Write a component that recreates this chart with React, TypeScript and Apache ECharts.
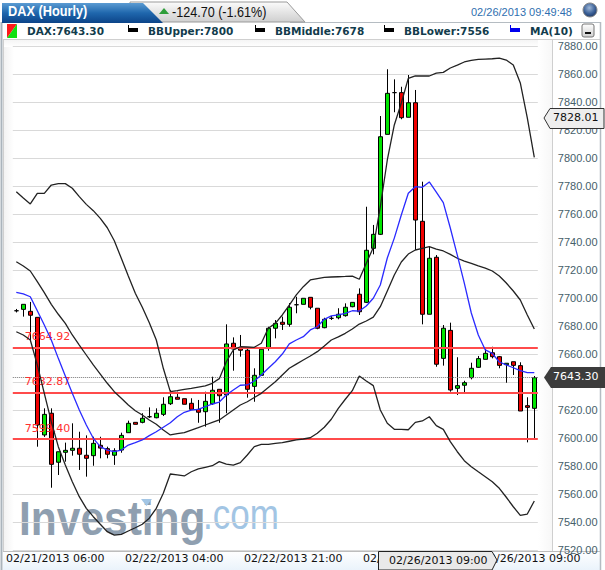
import React, { useEffect, useRef } from "react";
import * as echarts from "echarts";

const opens = [7691.1,7692.1,7690.7,7686.4,7602.4,7617.9,7582.9,7590,7591.4,7592.9,7587.9,7587.6,7595,7592.6,7587.9,7591.6,7604,7611.4,7611.4,7615.4,7614.7,7617.1,7624.7,7629.3,7628.3,7625,7620.7,7619,7624.7,7635,7631,7667.9,7664.7,7662.9,7637.1,7645,7664.3,7678.6,7682.9,7681.4,7695.4,7695.7,7700.7,7692.9,7679,7685.7,7686.1,7687.6,7694,7702.9,7697.1,7735.7,7745.7,7817.1,7846.9,7846.9,7829.3,7839.7,7755,7688.6,7729.3,7657.1,7677.1,7635.7,7637.9,7643.3,7650.7,7656.4,7661.1,7658.3,7652.6,7654.7,7651.9,7623.3,7621.4];
const closes = [7691.1,7695.7,7687.9,7609.5,7617.1,7581.4,7590.4,7591.4,7592.9,7588.6,7585.7,7596.4,7593,7588.6,7591.1,7602.1,7610.7,7610,7614.3,7615.4,7617.9,7624.3,7629.7,7627.9,7624.3,7620.7,7618.6,7626.4,7634.3,7630.4,7667.4,7663.8,7662.9,7635,7645,7663.6,7678.6,7682.1,7681.4,7693.6,7695.4,7700,7693.6,7678.6,7685,7685.7,7688.6,7693.6,7697.1,7690.4,7734.3,7745.7,7815.4,7846.4,7846.9,7829,7839.7,7755.9,7688.6,7728.6,7652.9,7678.6,7634.5,7637.6,7639.7,7650,7656.9,7660.7,7658.3,7652.1,7653.6,7652.1,7619.5,7622.1,7643.3];
const lows = [7689.9,7686.9,7670,7594,7601,7564.7,7573.8,7583.3,7587.6,7577.4,7572.6,7580.4,7585.7,7585.7,7581,7589.7,7604,7610,7610.7,7614.5,7614.3,7615.9,7623.8,7627.9,7624.3,7620.7,7611.1,7608.3,7623.8,7611.1,7617.9,7648.3,7658.3,7629,7626.1,7645,7662.6,7671.4,7677.4,7679.7,7689.3,7695.7,7692.1,7677.9,7678.6,7684.5,7685,7686.9,7693.6,7688.1,7696.6,7731.4,7745.2,7817.1,7832.9,7827.9,7829.3,7734.5,7681.4,7688.6,7651.1,7651.9,7633.3,7630.9,7632.1,7642.1,7650.4,7656.4,7657.1,7650,7639.7,7645.2,7619.5,7597.1,7599.3];
const highs = [7692.4,7695.7,7697.4,7686.4,7621.4,7621.4,7590.4,7596.9,7610.7,7604.7,7602.1,7601.1,7601.1,7594,7592.9,7604,7612.6,7611.4,7617.9,7622.1,7621.4,7629.3,7634.5,7633.3,7628.3,7628.6,7627.4,7633.3,7644,7635,7681.4,7672.1,7673.8,7664.3,7650,7663.6,7679.7,7684.5,7686.9,7696.6,7701.1,7700,7700.7,7692.9,7686.1,7687.4,7692.9,7696.4,7697.1,7707.1,7765.4,7752.4,7830.2,7863.6,7856.4,7851.1,7859.5,7848.8,7783.3,7736.9,7730.9,7680.9,7682.6,7657.9,7641.1,7654,7658.8,7664.3,7665.4,7658.8,7653.6,7654.7,7654.3,7629.3,7644.5];
const bbUpper = [7776.1,7771.6,7767.4,7775,7775,7780.9,7781.9,7781.9,7778.6,7772.6,7767.1,7762.6,7757.1,7750.4,7741.1,7728.6,7715.9,7703.6,7693.6,7682.6,7670.2,7650,7633.3,7634,7635,7635.7,7636.6,7637.4,7639.3,7642.6,7654.7,7663.1,7665.4,7665.2,7665,7667.9,7678.6,7682.1,7688.1,7695.2,7702.4,7708.3,7713.1,7714.1,7714.9,7715.2,7715.4,7715.6,7715.9,7713.6,7725,7736.3,7765.4,7798.8,7823.8,7839.5,7857.1,7858.8,7858.8,7858.8,7860.9,7861.4,7864.5,7866.6,7868.8,7869.9,7870.6,7870.9,7871.1,7871.6,7870.2,7866.6,7853.8,7828.8,7800.7];
const bbMiddle = [7726.1,7723.1,7719.5,7711.9,7704,7695.7,7688.6,7682.1,7673.8,7666.6,7659.5,7652.4,7645.9,7639.3,7633.3,7628.6,7623.8,7619.7,7616.6,7613.1,7610,7605.9,7602.4,7603.3,7604,7605.9,7607.6,7609.5,7611.3,7613.1,7616.6,7620.2,7623.8,7626.1,7629.1,7632.1,7636.3,7640.4,7645.2,7650,7653,7655.9,7658.8,7661.9,7665.9,7670.2,7672.4,7675,7678.1,7681.6,7683.8,7686.6,7694,7705.2,7716.6,7725.9,7731.6,7734.5,7735.7,7736.9,7735.2,7733.8,7731.4,7728.6,7726.6,7724.9,7723.1,7721.6,7719.5,7715.9,7710.9,7705.2,7698.8,7688.1,7678.1];
const bbLower = [7676.1,7673.8,7670.2,7652.4,7632.1,7611.9,7594,7580.9,7569,7558.3,7550,7544,7538.6,7533.3,7530.9,7531.4,7533.8,7536.1,7538.6,7542.9,7550,7560.7,7574.5,7573.8,7573.1,7576.1,7578.1,7579.3,7580.4,7583.3,7581.6,7580.9,7582.6,7588.1,7594,7595.7,7595.7,7596.4,7596.9,7597.9,7598.8,7599.5,7600.4,7603.6,7607.9,7613.6,7621.4,7627.9,7634,7644.5,7640.9,7637.6,7620.2,7610.7,7606.4,7606.4,7606.1,7611.4,7612.4,7615.4,7609,7606.4,7597.6,7590.4,7584,7579.7,7576.1,7572.6,7569,7564.3,7557.9,7551.1,7545,7545.9,7555.2];
const ma10 = [7704.3,7703.1,7701.1,7691.1,7680.9,7670.2,7657.1,7644.5,7632.1,7620.2,7609.5,7600,7594,7591.6,7590.4,7591.6,7595.2,7596.9,7598.8,7601.9,7604.7,7607.9,7611.1,7615.4,7618.6,7620.2,7620.7,7622.6,7624.5,7625.9,7630.9,7634.5,7637.9,7638.1,7640.9,7645.2,7650,7654.7,7660.2,7667.4,7670.2,7672.6,7677.4,7679.7,7685,7687.4,7688.1,7689.3,7691.1,7690.9,7694.5,7700,7709.5,7728.8,7743,7759.5,7775,7779.7,7779.3,7783.1,7775.9,7768.3,7750.2,7730.9,7710.9,7689.5,7673.8,7663.1,7660.7,7654.5,7652.4,7650.4,7648.3,7646.9,7646.9];

const tickIndices = [6, 23, 40, 57, 74];
const tickLabels = ["02/21/2013 06:00", "02/22/2013 04:00", "02/22/2013 21:00", "02/25/2013 14:00", "02/26/2013 09:00"];
const supportLevels = [7664.92, 7632.87, 7599.4];
const lastPrice = 7643.3;
const categories = opens.map((_, i) => {
  const k = tickIndices.indexOf(i);
  return k >= 0 ? tickLabels[k] : String(i);
});

const vgrad = (stops: [number, string][]) => ({
  type: "linear", x: 0, y: 0, x2: 0, y2: 1,
  colorStops: stops.map(([offset, color]) => ({ offset, color })),
});
const hgrad = (stops: [number, string][]) => ({
  type: "linear", x: 0, y: 0, x2: 1, y2: 0,
  colorStops: stops.map(([offset, color]) => ({ offset, color })),
});

const legendFont = { fontFamily: "DejaVu Sans", fontWeight: "bold", fontSize: 10.5, fill: "#123c4c" };
const tagFont = { fontFamily: "DejaVu Sans", fontSize: 11 };

const back = (e: any) => ({ z: -10, silent: true, ...e });
const front = (e: any) => ({ z: 100, silent: true, ...e });
const legendText = (x: number, text: string) =>
  front({ type: "text", x, y: 25, style: { text, ...legendFont } });
const legendMark = (x: number, color: string) => [
  front({ type: "rect", shape: { x, y: 28, width: 10, height: 4 }, style: { fill: color } }),
  front({ type: "rect", shape: { x, y: 25, width: 1, height: 3 }, style: { fill: color } }),
];

const graphicElements: any[] = [
  // panels
  back({ type: "rect", shape: { x: 0, y: 0, width: 605, height: 570 }, style: { fill: "#ffffff" } }),
  back({ type: "rect", shape: { x: 3, y: 551, width: 597, height: 19 }, style: { fill: vgrad([[0, "#ffffff"], [1, "#eaf3fb"]]) } }),
  back({ type: "rect", shape: { x: 3, y: 39, width: 11, height: 512 }, style: { fill: hgrad([[0, "#f1f1f1"], [1, "#ffffff"]]) } }),
  back({ type: "rect", shape: { x: 3, y: 39, width: 549, height: 8 }, style: { fill: vgrad([[0, "#f3f3f3"], [1, "#ffffff"]]) } }),
  back({ type: "rect", shape: { x: 538, y: 39, width: 14, height: 512 }, style: { fill: hgrad([[0, "#ffffff"], [1, "#f7f7f7"]]) } }),
  back({ type: "line", shape: { x1: 1.5, y1: 22, x2: 1.5, y2: 570 }, style: { stroke: "#aab4bc", lineWidth: 2 } }),
  back({ type: "line", shape: { x1: 3, y1: 39.5, x2: 600, y2: 39.5 }, style: { stroke: "#cfcfcf", lineWidth: 1 } }),
  back({ type: "line", shape: { x1: 3.5, y1: 39, x2: 3.5, y2: 551 }, style: { stroke: "#cfcfcf", lineWidth: 1 } }),
  back({ type: "line", shape: { x1: 3, y1: 551.5, x2: 600, y2: 551.5 }, style: { stroke: "#bdbdbd", lineWidth: 1 } }),
  back({ type: "line", shape: { x1: 552.5, y1: 39, x2: 552.5, y2: 551 }, style: { stroke: "#cfcfcf", lineWidth: 1 } }),
  back({ type: "line", shape: { x1: 600.5, y1: 22, x2: 600.5, y2: 570 }, style: { stroke: "#b5bcc2", lineWidth: 1.5 } }),
  back({ type: "line", shape: { x1: 290, y1: 22.5, x2: 600, y2: 22.5 }, style: { stroke: "#b5bcc2", lineWidth: 1 } }),
  // tabs
  back({ type: "polygon", shape: { points: [[130, 2], [287, 2], [305, 22], [130, 22]] }, style: { fill: vgrad([[0, "#fbfbfb"], [1, "#cfcfcf"]]), stroke: "#9a9a9a", lineWidth: 1 } }),
  back({ type: "polygon", shape: { points: [[2, 3], [143, 3], [163, 23], [2, 23]] }, style: { fill: vgrad([[0, "#5b9bd2"], [0.5, "#1f67ad"], [1, "#0c4488"]]) } }),
  front({ type: "text", x: 8, y: 4, scaleX: 0.88, style: { text: "DAX (Hourly)", fontFamily: "Liberation Sans", fontWeight: "bold", fontSize: 14.5, fill: "#ffffff" } }),
  front({ type: "polygon", shape: { points: [[159, 14], [164, 8], [169, 14]] }, style: { fill: "#2e9e3a" } }),
  front({ type: "text", x: 172, y: 5, scaleX: 0.9, style: { text: "-124.70 (-1.61%)", fontFamily: "Liberation Sans", fontSize: 14, fill: "#111111" } }),
  front({ type: "text", x: 471, y: 6, style: { text: "02/26/2013 09:49:48", fontFamily: "Liberation Sans", fontSize: 11, fill: "#2f6fb0" } }),
  front({ type: "circle", shape: { cx: 590, cy: 10, r: 7 }, style: { fill: { type: "radial", x: 0.45, y: 0.35, r: 0.7, colorStops: [{ offset: 0, color: "#9fb8d8" }, { offset: 0.6, color: "#3a5f96" }, { offset: 1, color: "#1c3560" }] }, stroke: "#8a8a8a", lineWidth: 1 } }),
  // legend
  front({ type: "polygon", shape: { points: [[7, 24], [17, 24], [7, 38]] }, style: { fill: "#ff1a1a" } }),
  front({ type: "polygon", shape: { points: [[17, 24], [17, 38], [7, 38]] }, style: { fill: "#10e010" } }),
  legendText(27, "DAX:7643.30"),
  ...legendMark(128, "#000000"),
  legendText(148, "BBUpper:7800"),
  ...legendMark(255, "#000000"),
  legendText(275, "BBMiddle:7678"),
  ...legendMark(384, "#000000"),
  legendText(404, "BBLower:7556"),
  ...legendMark(510, "#0000ee"),
  legendText(530, "MA(10)"),
  front({ type: "rect", shape: { x: 582, y: 24, width: 12, height: 13, r: 2 }, style: { fill: vgrad([[0, "#ffffff"], [1, "#d0d0d0"]]), stroke: "#777777", lineWidth: 1 } }),
  front({ type: "rect", shape: { x: 585, y: 32, width: 6, height: 2 }, style: { fill: "#111111" } }),
  // watermark
  back({ type: "text", z: -5, x: 19, y: 494, scaleY: 1.14, style: { text: "Investing", fontFamily: "Liberation Sans", fontWeight: "bold", fontSize: 42.5, fill: "#8f9fb0" } }),
  back({ type: "text", z: -5, x: 203, y: 493, scaleY: 1.2, style: { text: ".com", fontFamily: "Liberation Sans", fontSize: 35, fill: "#a2c5e4" } }),
  back({ type: "polygon", z: -5, shape: { points: [[141, 499], [152, 499], [146.5, 506]] }, style: { fill: "#a2c5e4" } }),
  // price tags
  front({ type: "polygon", shape: { points: [[544, 118], [550, 108.5], [604, 108.5], [604, 128.5], [550, 128.5]] }, style: { fill: "#eeeeee", stroke: "#333333", lineWidth: 1 } }),
  front({ type: "text", x: 553, y: 112, style: { text: "7828.01", ...tagFont, fill: "#111111" } }),
  front({ type: "polygon", shape: { points: [[544, 377.5], [551, 367], [605, 367], [605, 388], [551, 388]] }, style: { fill: "#3c3c3c" } }),
  front({ type: "text", x: 553, y: 371, style: { text: "7643.30", ...tagFont, fill: "#ffffff" } }),
  front({ type: "polygon", shape: { points: [[378.5, 551.5], [492, 551.5], [497, 560], [492, 570], [378.5, 570]] }, style: { fill: "#e9e9e9", stroke: "#222222", lineWidth: 1 } }),
  front({ type: "text", x: 389, y: 555, style: { text: "02/26/2013 09:00", ...tagFont, fill: "#111111" } }),
];

const lineSeries = (name: string, data: number[], color: string) => ({
  name, type: "line", data, showSymbol: false, symbol: "none", smooth: false, silent: true,
  lineStyle: { color, width: 1.3 }, z: 5,
});

export default function App() {
  const ref = useRef<HTMLDivElement>(null);
  useEffect(() => {
    document.body.style.margin = "0";
    const chart = echarts.init(ref.current!, undefined, { renderer: "svg" });
    chart.setOption({
      animation: false,
      backgroundColor: "#ffffff",
      grid: { left: 12.8, top: 46.3, width: 525, height: 504, containLabel: false },
      xAxis: {
        type: "category", data: categories, boundaryGap: true,
        axisLine: { show: false }, axisTick: { show: false }, splitLine: { show: false },
        axisLabel: {
          interval: (i: number) => tickIndices.includes(i),
          hideOverlap: false, margin: 3, padding: [0, 6, 0, 0],
          fontFamily: "DejaVu Sans", fontSize: 11, color: "#111111",
        },
      },
      yAxis: {
        type: "value", position: "right", min: 7520, max: 7880, interval: 20, scale: true,
        axisLine: { show: false }, axisTick: { show: false },
        splitLine: { lineStyle: { color: "#d9d9d9", width: 1 } },
        axisLabel: {
          margin: 20, padding: [0, 0, 3, 0], fontFamily: "Liberation Sans", fontSize: 11, color: "#46606a",
          formatter: (v: number) => v.toFixed(2),
        },
      },
      series: [
        {
          name: "DAX", type: "candlestick", barWidth: 5, silent: true, z: 3,
          data: opens.map((o, i) => [o, closes[i], lows[i], highs[i]]),
          itemStyle: {
            color: "#00e600", color0: "#f00000",
            borderColor: "#000000", borderColor0: "#000000", borderColorDoji: "#000000", borderWidth: 1,
          },
        },
        lineSeries("BBUpper", bbUpper, "#222222"),
        lineSeries("BBMiddle", bbMiddle, "#222222"),
        lineSeries("BBLower", bbLower, "#222222"),
        {
          ...lineSeries("MA(10)", ma10, "#2a2aff"),
          markLine: {
            silent: true, symbol: "none", animation: false,
            data: [
              ...supportLevels.map((v) => ({
                yAxis: v,
                lineStyle: { color: "#ff4b4b", width: 2, type: "solid" },
                label: {
                  show: true, position: "insideStartTop", distance: 5, padding: [0, 0, 0, 7],
                  fontFamily: "DejaVu Sans", fontSize: 11, color: "#ff3030",
                  formatter: (p: any) => Number(p.value).toFixed(2),
                },
              })),
              { yAxis: lastPrice, lineStyle: { color: "#777777", width: 1, type: "dotted" }, label: { show: false } },
            ],
          },
        },
      ],
      graphic: { elements: graphicElements },
    });
    return () => chart.dispose();
  }, []);
  return <div ref={ref} style={{ width: 605, height: 570 }} />;
}
